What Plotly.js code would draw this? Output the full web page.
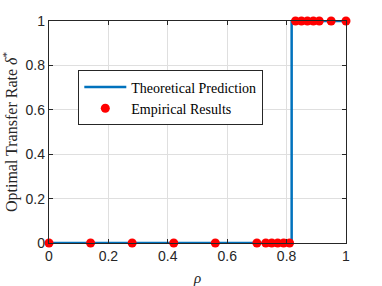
<!DOCTYPE html>
<html><head><meta charset="utf-8">
<script src="https://cdn.plot.ly/plotly-3.0.1.min.js"></script>
<style>html,body{margin:0;padding:0;background:#fff}#c{width:382px;height:286px}</style>
</head><body><div id="c"></div>
<script>
const theoryRho = [0, 0.817, 0.817, 1];
const theoryDelta = [0, 0, 1, 1];
const empRho = [0, 0.14, 0.28, 0.42, 0.56, 0.70, 0.73, 0.75, 0.77, 0.79, 0.81, 0.83, 0.85, 0.87, 0.89, 0.91, 0.95, 1.0];
const empDelta = [0, 0, 0, 0, 0, 0, 0, 0, 0, 0, 0, 1, 1, 1, 1, 1, 1, 1];
const tickVals = [0, 0.2, 0.4, 0.6, 0.8, 1];
const tickText = ['0', '0.2', '0.4', '0.6', '0.8', '1'];

const serif = '"Liberation Serif", "DejaVu Serif", serif';
const sans = '"Liberation Sans", Arial, sans-serif';

const traces = [
  {x: theoryRho, y: theoryDelta, mode: 'lines', name: 'Theoretical Prediction',
   line: {color: '#0072BD', width: 2.5}},
  {x: empRho, y: empDelta, mode: 'markers', name: 'Empirical Results',
   marker: {color: '#FF0000', size: 9}, cliponaxis: false}
];
const axisCommon = {
  range: [0, 1], tickvals: tickVals, ticktext: tickText,
  showgrid: true, gridcolor: '#DFDFDF', gridwidth: 1,
  showline: true, linecolor: '#262626', linewidth: 1.2, mirror: 'ticks',
  ticks: 'inside', ticklen: 4, tickcolor: '#262626', zeroline: false,
  tickfont: {family: sans, size: 14, color: '#262626'}
};
const layout = {
  width: 382, height: 286,
  margin: {l: 49, r: 36, t: 21, b: 43},
  paper_bgcolor: '#fff', plot_bgcolor: '#fff',
  showlegend: true,
  legend: {x: 0.098, y: 0.778, xanchor: 'left', yanchor: 'top',
    bgcolor: '#fff', bordercolor: '#262626', borderwidth: 1.2,
    font: {family: serif, size: 14, color: '#000'}, tracegroupgap: 0, itemwidth: 42},
  xaxis: Object.assign({}, axisCommon, {
    title: {text: '<i>ρ</i>', font: {family: serif, size: 15, color: '#262626'}, standoff: 10}
  }),
  yaxis: Object.assign({}, axisCommon, {
    title: {text: 'Optimal Transfer Rate <i>δ</i><sup>*</sup>', font: {family: serif, size: 16, color: '#262626'}, standoff: 4}
  })
};
Plotly.newPlot('c', traces, layout, {displayModeBar: false, staticPlot: true});
</script></body></html>
